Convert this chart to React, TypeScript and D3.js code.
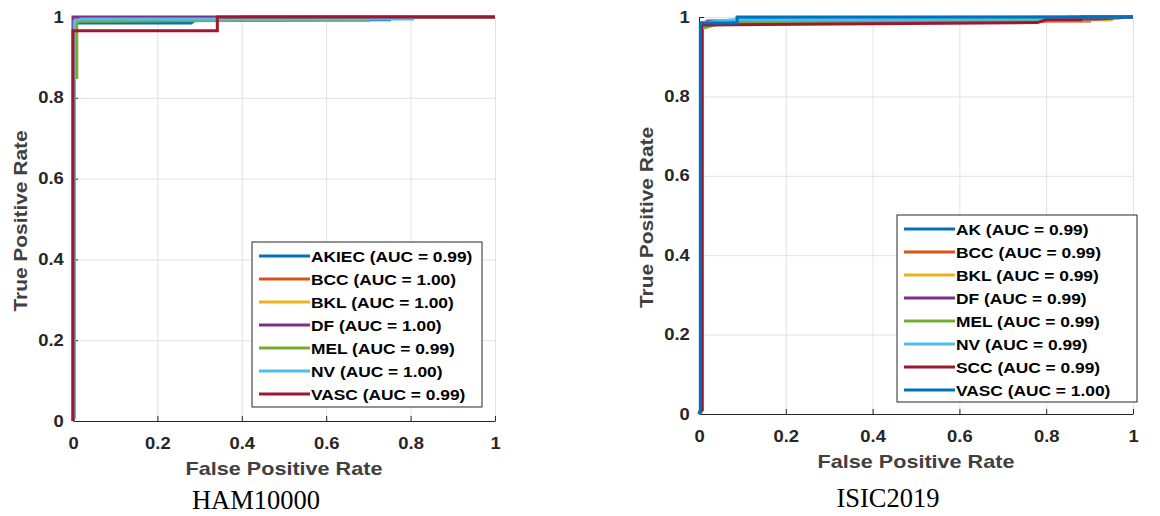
import React, { useEffect, useRef } from 'react'
import * as d3 from 'd3'

const ticks = [0, 0.2, 0.4, 0.6, 0.8, 1]
const tickLabels = ['0', '0.2', '0.4', '0.6', '0.8', '1']
const colors = ['#0072BD', '#D95319', '#EDB120', '#7E2F8E', '#77AC30', '#4DBEEE', '#A2142F', '#0072BD']

// HAM10000 ROC curves, points are [fpr, tpr]
const hamClasses = ['AKIEC', 'BCC', 'BKL', 'DF', 'MEL', 'NV', 'VASC']
const hamAuc = ['0.99', '1.00', '1.00', '1.00', '0.99', '1.00', '0.99']
const hamAkiec = [[0, 0], [0.003, 0.01], [0.003, 0.985], [0.28, 0.985], [0.29, 0.993], [0.75, 0.993], [0.75, 1], [1, 1]]
const hamBcc = [[0, 0], [0.002, 0.01], [0.002, 0.98], [0.01, 0.995], [0.4, 0.995], [0.4, 1], [1, 1]]
const hamBkl = [[0, 0], [0.002, 0.01], [0.002, 0.99], [0.5, 0.993], [0.55, 1], [1, 1]]
const hamDf = [[0, 0], [0, 1], [1, 1]]
const hamMel = [[0, 0], [0.002, 0.01], [0.002, 0.85], [0.009, 0.85], [0.009, 0.99], [0.7, 0.992], [0.7, 1], [1, 1]]
const hamNv = [[0, 0], [0.003, 0.01], [0.003, 0.99], [0.02, 0.995], [0.805, 0.995], [0.805, 1], [1, 1]]
const hamVasc = [[0, 0], [0, 0.966], [0.342, 0.966], [0.342, 1], [1, 1]]

// ISIC2019 ROC curves
const isicClasses = ['AK', 'BCC', 'BKL', 'DF', 'MEL', 'NV', 'SCC', 'VASC']
const isicAuc = ['0.99', '0.99', '0.99', '0.99', '0.99', '0.99', '0.99', '1.00']
const isicAk = [[0, 0], [0.008, 0.01], [0.008, 0.985], [0.088, 0.985], [0.088, 0.998], [1, 1]]
const isicBcc = [[0, 0], [0.007, 0.01], [0.007, 0.985], [0.9, 0.99], [0.9, 1], [1, 1]]
const isicBkl = [[0, 0], [0.005, 0.01], [0.005, 0.98], [0.6, 0.99], [0.95, 0.993], [0.95, 1], [1, 1]]
const isicDf = [[0, 0], [0.004, 0.01], [0.004, 0.98], [0.02, 0.99], [0.3, 0.992], [0.92, 0.995], [1, 1]]
const isicMel = [[0, 0], [0.005, 0.01], [0.005, 0.97], [0.05, 0.985], [0.85, 0.992], [0.85, 1], [1, 1]]
const isicNv = [[0, 0], [0.006, 0.01], [0.006, 0.985], [0.08, 0.993], [0.85, 0.995], [0.85, 1], [1, 1]]
const isicScc = [[0, 0], [0.006, 0.01], [0.006, 0.98], [0.78, 0.986], [0.8, 0.993], [0.88, 0.993], [0.88, 1], [1, 1]]
const isicVasc = [[0, 0], [0.003, 0.01], [0.003, 0.985], [0.088, 0.985], [0.088, 1], [1, 1]]

const panels = [
  {
    caption: 'HAM10000', classes: hamClasses, auc: hamAuc,
    curves: [hamAkiec, hamBcc, hamBkl, hamDf, hamMel, hamNv, hamVasc],
    box: { x0: 73, x1: 495, y0: 421, y1: 17 },
    legend: { x: 252, y: 242, w: 230, h: 165, row: 23 },
    yTitleX: 20, captionY: 500,
  },
  {
    caption: 'ISIC2019', classes: isicClasses, auc: isicAuc,
    curves: [isicAk, isicBcc, isicBkl, isicDf, isicMel, isicNv, isicScc, isicVasc],
    box: { x0: 699, x1: 1133, y0: 414, y1: 17 },
    legend: { x: 897, y: 215, w: 240, h: 187, row: 23 },
    yTitleX: 646, captionY: 498,
  },
]

const sans = '"Liberation Sans", Arial, sans-serif'

function App() {
  const svgRef = useRef<SVGSVGElement>(null)

  useEffect(() => {
    const svg = d3.select(svgRef.current)
    svg.selectAll('*').remove()

    panels.forEach((p) => {
      const { x0, x1, y0, y1 } = p.box
      const x = d3.scaleLinear().domain([0, 1]).range([x0, x1])
      const y = d3.scaleLinear().domain([0, 1]).range([y0, y1])
      const g = svg.append('g')

      // grid
      g.append('g')
        .attr('transform', `translate(0,${y0})`)
        .call(d3.axisBottom(x).tickValues(ticks.slice(1)).tickSize(-(y0 - y1)).tickFormat(() => ''))
        .call((s) => s.select('.domain').remove())
        .selectAll('line').attr('stroke', '#e2e2e2')
      g.append('g')
        .attr('transform', `translate(${x0},0)`)
        .call(d3.axisLeft(y).tickValues(ticks.slice(1)).tickSize(-(x1 - x0)).tickFormat(() => ''))
        .call((s) => s.select('.domain').remove())
        .selectAll('line').attr('stroke', '#e2e2e2')

      // axes
      const xAxis = g.append('g')
        .attr('transform', `translate(0,${y0})`)
        .call(d3.axisBottom(x).tickValues(ticks).tickFormat((_, i) => tickLabels[i]).tickSize(-5).tickSizeOuter(0).tickPadding(17))
      const yAxis = g.append('g')
        .attr('transform', `translate(${x0},0)`)
        .call(d3.axisLeft(y).tickValues(ticks).tickFormat((_, i) => tickLabels[i]).tickSize(-5).tickSizeOuter(0).tickPadding(8))
      ;[xAxis, yAxis].forEach((a) => {
        a.select('.domain').attr('stroke', '#262626')
        a.selectAll('line').attr('stroke', '#262626')
        a.selectAll('text')
          .attr('fill', '#262626')
          .style('font-family', sans)
          .style('font-weight', 'bold')
          .style('font-size', '16px')
          .attr('transform', 'scale(1.15,1)')
      })

      // curves
      const line = d3.line<number[]>().x((d) => x(d[0])).y((d) => y(d[1]))
      p.curves.forEach((c, i) => {
        g.append('path')
          .datum(c)
          .attr('d', line)
          .attr('fill', 'none')
          .attr('stroke', colors[i])
          .attr('stroke-width', 3)
      })

      // titles
      g.append('text')
        .attr('transform', `translate(${(x0 + x1) / 2},${y0 + 54}) scale(1.2,1)`)
        .attr('text-anchor', 'middle')
        .attr('fill', '#404040')
        .style('font-family', sans).style('font-weight', 'bold').style('font-size', '18px')
        .text('False Positive Rate')
      g.append('text')
        .attr('transform', `translate(${p.yTitleX},${(y0 + y1) / 2 + 2}) rotate(-90) scale(1.1,1)`)
        .attr('text-anchor', 'middle')
        .attr('dy', '0.35em')
        .attr('fill', '#404040')
        .style('font-family', sans).style('font-weight', 'bold').style('font-size', '19px')
        .text('True Positive Rate')
      g.append('text')
        .attr('x', (x0 + x1) / 2 - 28)
        .attr('y', p.captionY)
        .attr('dy', '0.35em')
        .attr('text-anchor', 'middle')
        .attr('fill', '#000')
        .style('font-family', '"Liberation Serif", "Times New Roman", serif')
        .style('font-size', '26.5px')
        .text(p.caption)

      // legend
      const L = p.legend
      const lg = g.append('g').attr('transform', `translate(${L.x},${L.y})`)
      lg.append('rect')
        .attr('width', L.w).attr('height', L.h)
        .attr('fill', '#fff').attr('stroke', '#262626').attr('stroke-width', 1)
      p.classes.forEach((name, i) => {
        const cy = 14 + i * L.row
        lg.append('line')
          .attr('x1', 7).attr('x2', 58).attr('y1', cy).attr('y2', cy)
          .attr('stroke', colors[i]).attr('stroke-width', 3)
        lg.append('text')
          .attr('transform', `translate(59,${cy}) scale(1.12,1)`)
          .attr('dy', '0.36em')
          .attr('fill', '#000')
          .style('font-family', sans).style('font-weight', 'bold').style('font-size', '15.5px')
          .text(`${name} (AUC = ${p.auc[i]})`)
      })
    })
  }, [])

  return (
    <svg
      ref={svgRef}
      width={1160}
      height={516}
      style={{ position: 'absolute', left: 0, top: 0, background: '#fff' }}
    />
  )
}

export default App
